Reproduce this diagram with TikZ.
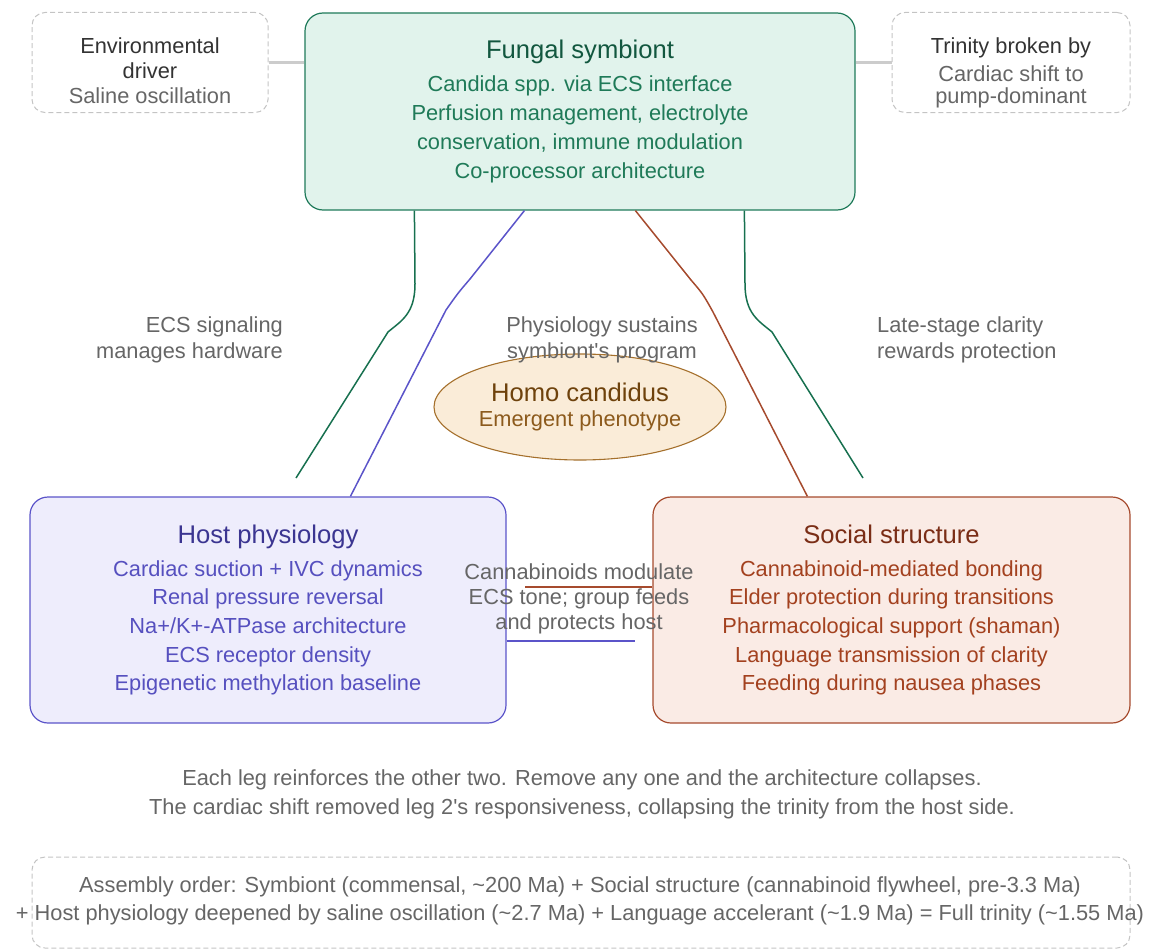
\documentclass[tikz,border=0pt]{standalone}
\usepackage{fontspec}
\setmainfont{Liberation Sans}
\usetikzlibrary{shapes.geometric,calc}
\definecolor{fgfill}{HTML}{E1F3EC}
\definecolor{fgdraw}{HTML}{1F7A5A}
\definecolor{fgtitle}{HTML}{12573F}
\definecolor{fgbody}{HTML}{1F7A58}
\definecolor{fgline}{HTML}{17704F}
\definecolor{hsfill}{HTML}{EEEDFC}
\definecolor{hsdraw}{HTML}{5B54C9}
\definecolor{hstitle}{HTML}{3B3591}
\definecolor{hsbody}{HTML}{5650BF}
\definecolor{scfill}{HTML}{FAEBE5}
\definecolor{scdraw}{HTML}{A64B2E}
\definecolor{sctitle}{HTML}{7A2D16}
\definecolor{scbody}{HTML}{A3411F}
\definecolor{elfill}{HTML}{FAECD8}
\definecolor{eldraw}{HTML}{A5702C}
\definecolor{eltitle}{HTML}{6E420C}
\definecolor{elbody}{HTML}{8C5A1C}
\definecolor{labelgray}{HTML}{666666}
\definecolor{darktext}{HTML}{333333}
\definecolor{dashgray}{HTML}{C4C4C4}
\definecolor{feedgray}{HTML}{CCCCCC}
\newcommand\mytitle{\fontsize{25.6}{30}\selectfont}
\newcommand\mybody{\fontsize{21.8}{28.7}\selectfont}
\newcommand\mylabel{\fontsize{21.8}{25}\selectfont}
\begin{document}
\begin{tikzpicture}[x=1pt,y=-1pt,
  mainbox/.style={draw, rounded corners=18pt, line width=1.2pt, align=center, inner sep=0pt},
  dashbox/.style={draw=dashgray, dash pattern=on 5pt off 3pt, rounded corners=13pt, line width=1pt, inner sep=0pt},
  lbl/.style={text=labelgray, font=\mylabel, align=center, inner sep=0pt, anchor=north},
  feed/.style={draw=feedgray, line width=3pt},
  link/.style={line width=1.5pt},
]
\useasboundingbox (0,0) rectangle (1162,950);

% main boxes
\node[mainbox, draw=fgdraw, fill=fgfill, text=fgbody, font=\mybody,
  minimum width=550pt, minimum height=197pt] (fungal) at (580,111.5)
  {{\mytitle\color{fgtitle}Fungal symbiont}\\[4.3pt]Candida spp. via ECS interface\\Perfusion management, electrolyte\\conservation, immune modulation\\Co-processor architecture};

\node[mainbox, draw=hsdraw, fill=hsfill, text=hsbody, font=\mybody,
  minimum width=476pt, minimum height=226pt] (host) at (268,610)
  {{\mytitle\color{hstitle}Host physiology}\\[4.3pt]Cardiac suction + IVC dynamics\\Renal pressure reversal\\Na+/K+-ATPase architecture\\ECS receptor density\\Epigenetic methylation baseline};

\node[mainbox, draw=scdraw, fill=scfill, text=scbody, font=\mybody,
  minimum width=477pt, minimum height=226pt] (social) at (891.5,610)
  {{\mytitle\color{sctitle}Social structure}\\[4.3pt]Cannabinoid-mediated bonding\\Elder protection during transitions\\Pharmacological support (shaman)\\Language transmission of clarity\\Feeding during nausea phases};

% emergent ellipse
\node[ellipse, draw=eldraw, fill=elfill, line width=1.1pt, minimum width=292pt, minimum height=106pt,
  inner sep=0pt, align=center, text=elbody, font=\mybody] (homo) at (580,407)
  {{\mytitle\color{eltitle}Homo candidus}\\[-3pt]Emergent phenotype};

% side dashed boxes
\node[dashbox, minimum width=236pt, minimum height=100pt] (env) at (150,62.5) {};
\node[lbl, text=darktext] (envtext) at (150,37.2)
  {Environmental\\driver\\{\color{labelgray}Saline oscillation}};
\node[dashbox, minimum width=238pt, minimum height=100pt] (trin) at (1011,62.5) {};
\node[lbl, text=darktext] (trintext) at (1011,37.2)
  {Trinity broken by\\[3pt]{\color{labelgray}Cardiac shift to}\\[-3pt]{\color{labelgray}pump-dominant}};

\draw[feed] (env.east) -- (env.east -| fungal.west);
\draw[feed] (trin.west) -- (trin.west -| fungal.east);

% connectors from the symbiont
\coordinate (gl0) at ($(fungal.south west)+(110,0)$);
\coordinate (gl1) at (296,478);
\coordinate (bl0) at ($(fungal.south west)+(220,0)$);
\coordinate (bl1) at ($(host.north west)+(321,0)$);
\coordinate (br0) at ($(fungal.south west)+(331,0)$);
\coordinate (br1) at ($(social.north west)+(155,0)$);
\coordinate (gr0) at ($(fungal.south west)+(440,0)$);
\coordinate (gr1) at (863,478);

\draw[link, draw=fgline] (gl0) -- (415,284) .. controls (415,314) and (401,321) .. (388,332) -- (gl1);
\draw[link, draw=hsdraw] (bl0) -- (470,279) .. controls (458,293) .. (446,310) -- (bl1);
\draw[link, draw=scdraw] (br0) -- (691,280) .. controls (703,294) .. (713,312) -- (br1);
\draw[link, draw=fgline] (gr0) -- (745,284) .. controls (745,314) and (759,321) .. (772,332) -- (gr1);

% connectors between host and social
\coordinate (bm1) at (635,641);
\coordinate (rm1) at (525,587);
\draw[link, draw=scdraw] ($(social.west)+(0,-23)$) -- (rm1);
\draw[link, draw=hsdraw] ($(host.east)+(0,31)$) -- (bm1);

% edge labels
\node[lbl, align=right, anchor=north east] (lblL) at (283,317) {ECS signaling\\manages hardware};
\node[lbl] (lblM) at (602,317) {Physiology sustains\\symbiont\textquotesingle s program};
\node[lbl, align=left, anchor=north west] (lblR) at (877,317) {Late-stage clarity\\rewards protection};
\node[lbl] (lblB) at (579,563) {Cannabinoids modulate\\ECS tone; group feeds\\and protects host};

% footer notes
\node[lbl, font=\fontsize{21.8}{29}\selectfont] (note) at (582,769)
  {Each leg reinforces the other two. Remove any one and the architecture collapses.\\The cardiac shift removed leg 2\textquotesingle s responsiveness, collapsing the trinity from the host side.};

\node[dashbox, minimum width=1098pt, minimum height=91pt] (assembly) at (581,902.5) {};
\node[lbl, font=\fontsize{21.8}{28}\selectfont] (asmtext) at (580,876)
  {Assembly order: Symbiont (commensal, \textasciitilde200 Ma) + Social structure (cannabinoid flywheel, pre-3.3 Ma)\\+ Host physiology deepened by saline oscillation (\textasciitilde2.7 Ma) + Language accelerant (\textasciitilde1.9 Ma) = Full trinity (\textasciitilde1.55 Ma)};
\end{tikzpicture}
\end{document}
